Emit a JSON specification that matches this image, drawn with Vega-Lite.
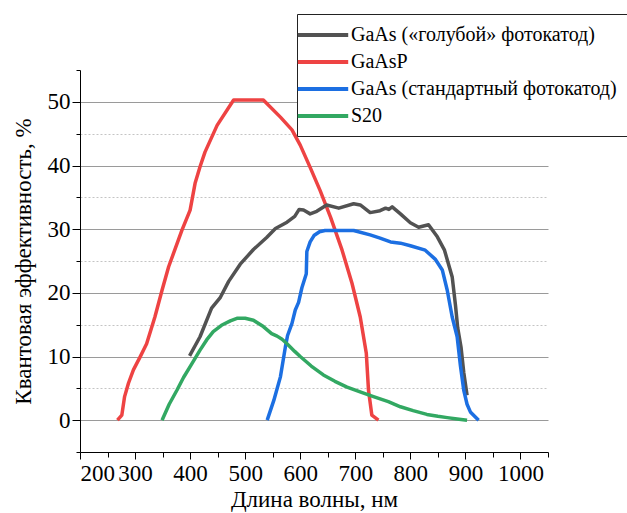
{
  "$schema": "https://vega.github.io/schema/vega-lite/v6.json",
  "width": 468,
  "height": 382,
  "autosize": "none",
  "padding": {"left": 80, "top": 70, "right": 79, "bottom": 61},
  "background": "white",
  "config": {
    "view": {"stroke": null},
    "font": "Liberation Serif, Times New Roman, DejaVu Serif, serif",
    "style": {
      "guide-label": {"font": "Liberation Serif, Times New Roman, DejaVu Serif, serif"},
      "guide-title": {"font": "Liberation Serif, Times New Roman, DejaVu Serif, serif"}
    },
    "axis": {
      "labelFont": "Liberation Serif, Times New Roman, DejaVu Serif, serif",
      "titleFont": "Liberation Serif, Times New Roman, DejaVu Serif, serif",
      "labelColor": "black",
      "titleColor": "black",
      "labelFontSize": 23,
      "titleFontSize": 23,
      "titleFontWeight": "normal",
      "tickColor": "black",
      "domainColor": "black"
    },
    "legend": {
      "labelFont": "Liberation Serif, Times New Roman, DejaVu Serif, serif"
    }
  },
  "data": {
    "values": [
      {"s": "GaAsP", "nm": 268, "qe": 0},
      {"s": "GaAsP", "nm": 276, "qe": 0.8},
      {"s": "GaAsP", "nm": 281, "qe": 3.7},
      {"s": "GaAsP", "nm": 288, "qe": 5.8},
      {"s": "GaAsP", "nm": 297, "qe": 7.9},
      {"s": "GaAsP", "nm": 309, "qe": 9.9},
      {"s": "GaAsP", "nm": 321, "qe": 12.0},
      {"s": "GaAsP", "nm": 336, "qe": 16.2},
      {"s": "GaAsP", "nm": 349, "qe": 20.4},
      {"s": "GaAsP", "nm": 361, "qe": 24.1},
      {"s": "GaAsP", "nm": 385, "qe": 29.8},
      {"s": "GaAsP", "nm": 400, "qe": 33.0},
      {"s": "GaAsP", "nm": 409, "qe": 37.2},
      {"s": "GaAsP", "nm": 418, "qe": 39.8},
      {"s": "GaAsP", "nm": 427, "qe": 42.1},
      {"s": "GaAsP", "nm": 449, "qe": 46.3},
      {"s": "GaAsP", "nm": 479, "qe": 50.3},
      {"s": "GaAsP", "nm": 533, "qe": 50.3},
      {"s": "GaAsP", "nm": 564, "qe": 47.6},
      {"s": "GaAsP", "nm": 585, "qe": 45.6},
      {"s": "GaAsP", "nm": 600, "qe": 43.2},
      {"s": "GaAsP", "nm": 618, "qe": 39.7},
      {"s": "GaAsP", "nm": 636, "qe": 36.1},
      {"s": "GaAsP", "nm": 655, "qe": 31.9},
      {"s": "GaAsP", "nm": 676, "qe": 26.7},
      {"s": "GaAsP", "nm": 694, "qe": 21.5},
      {"s": "GaAsP", "nm": 709, "qe": 16.2},
      {"s": "GaAsP", "nm": 720, "qe": 10.5},
      {"s": "GaAsP", "nm": 724, "qe": 4.7},
      {"s": "GaAsP", "nm": 730, "qe": 0.8},
      {"s": "GaAsP", "nm": 742, "qe": 0},

      {"s": "GaAs («голубой» фотокатод)", "nm": 399, "qe": 10.1},
      {"s": "GaAs («голубой» фотокатод)", "nm": 418, "qe": 13.1},
      {"s": "GaAs («голубой» фотокатод)", "nm": 439, "qe": 17.6},
      {"s": "GaAs («голубой» фотокатод)", "nm": 455, "qe": 19.3},
      {"s": "GaAs («голубой» фотокатод)", "nm": 470, "qe": 21.8},
      {"s": "GaAs («голубой» фотокатод)", "nm": 491, "qe": 24.5},
      {"s": "GaAs («голубой» фотокатод)", "nm": 515, "qe": 26.8},
      {"s": "GaAs («голубой» фотокатод)", "nm": 539, "qe": 28.7},
      {"s": "GaAs («голубой» фотокатод)", "nm": 555, "qe": 30.1},
      {"s": "GaAs («голубой» фотокатод)", "nm": 576, "qe": 31.1},
      {"s": "GaAs («голубой» фотокатод)", "nm": 590, "qe": 32.0},
      {"s": "GaAs («голубой» фотокатод)", "nm": 598, "qe": 33.1},
      {"s": "GaAs («голубой» фотокатод)", "nm": 606, "qe": 33.0},
      {"s": "GaAs («голубой» фотокатод)", "nm": 618, "qe": 32.4},
      {"s": "GaAs («голубой» фотокатод)", "nm": 630, "qe": 32.8},
      {"s": "GaAs («голубой» фотокатод)", "nm": 648, "qe": 33.8},
      {"s": "GaAs («голубой» фотокатод)", "nm": 670, "qe": 33.3},
      {"s": "GaAs («голубой» фотокатод)", "nm": 697, "qe": 34.0},
      {"s": "GaAs («голубой» фотокатод)", "nm": 709, "qe": 33.8},
      {"s": "GaAs («голубой» фотокатод)", "nm": 727, "qe": 32.6},
      {"s": "GaAs («голубой» фотокатод)", "nm": 745, "qe": 32.9},
      {"s": "GaAs («голубой» фотокатод)", "nm": 755, "qe": 33.3},
      {"s": "GaAs («голубой» фотокатод)", "nm": 761, "qe": 33.1},
      {"s": "GaAs («голубой» фотокатод)", "nm": 767, "qe": 33.5},
      {"s": "GaAs («голубой» фотокатод)", "nm": 782, "qe": 32.4},
      {"s": "GaAs («голубой» фотокатод)", "nm": 800, "qe": 31.0},
      {"s": "GaAs («голубой» фотокатод)", "nm": 815, "qe": 30.3},
      {"s": "GaAs («голубой» фотокатод)", "nm": 833, "qe": 30.7},
      {"s": "GaAs («голубой» фотокатод)", "nm": 849, "qe": 28.8},
      {"s": "GaAs («голубой» фотокатод)", "nm": 862, "qe": 26.7},
      {"s": "GaAs («голубой» фотокатод)", "nm": 876, "qe": 22.5},
      {"s": "GaAs («голубой» фотокатод)", "nm": 882, "qe": 18.0},
      {"s": "GaAs («голубой» фотокатод)", "nm": 886, "qe": 14.5},
      {"s": "GaAs («голубой» фотокатод)", "nm": 892, "qe": 11.5},
      {"s": "GaAs («голубой» фотокатод)", "nm": 897, "qe": 7.5},
      {"s": "GaAs («голубой» фотокатод)", "nm": 903, "qe": 3.9},

      {"s": "GaAs (стандартный фотокатод)", "nm": 540, "qe": 0},
      {"s": "GaAs (стандартный фотокатод)", "nm": 552, "qe": 3.1},
      {"s": "GaAs (стандартный фотокатод)", "nm": 564, "qe": 6.8},
      {"s": "GaAs (стандартный фотокатод)", "nm": 573, "qe": 11.5},
      {"s": "GaAs (стандартный фотокатод)", "nm": 577, "qe": 13.3},
      {"s": "GaAs (стандартный фотокатод)", "nm": 585, "qe": 15.2},
      {"s": "GaAs (стандартный фотокатод)", "nm": 591, "qe": 17.3},
      {"s": "GaAs (стандартный фотокатод)", "nm": 597, "qe": 18.5},
      {"s": "GaAs (стандартный фотокатод)", "nm": 603, "qe": 20.8},
      {"s": "GaAs (стандартный фотокатод)", "nm": 611, "qe": 23.0},
      {"s": "GaAs (стандартный фотокатод)", "nm": 612, "qe": 26.5},
      {"s": "GaAs (стандартный фотокатод)", "nm": 618, "qe": 28.0},
      {"s": "GaAs (стандартный фотокатод)", "nm": 625, "qe": 29.0},
      {"s": "GaAs (стандартный фотокатод)", "nm": 635, "qe": 29.6},
      {"s": "GaAs (стандартный фотокатод)", "nm": 645, "qe": 29.8},
      {"s": "GaAs (стандартный фотокатод)", "nm": 697, "qe": 29.8},
      {"s": "GaAs (стандартный фотокатод)", "nm": 727, "qe": 29.1},
      {"s": "GaAs (стандартный фотокатод)", "nm": 745, "qe": 28.6},
      {"s": "GaAs (стандартный фотокатод)", "nm": 764, "qe": 28.0},
      {"s": "GaAs (стандартный фотокатод)", "nm": 782, "qe": 27.8},
      {"s": "GaAs (стандартный фотокатод)", "nm": 800, "qe": 27.4},
      {"s": "GaAs (стандартный фотокатод)", "nm": 827, "qe": 26.7},
      {"s": "GaAs (стандартный фотокатод)", "nm": 845, "qe": 25.3},
      {"s": "GaAs (стандартный фотокатод)", "nm": 858, "qe": 23.6},
      {"s": "GaAs (стандартный фотокатод)", "nm": 867, "qe": 20.4},
      {"s": "GaAs (стандартный фотокатод)", "nm": 876, "qe": 16.2},
      {"s": "GaAs (стандартный фотокатод)", "nm": 885, "qe": 13.1},
      {"s": "GaAs (стандартный фотокатод)", "nm": 891, "qe": 8.5},
      {"s": "GaAs (стандартный фотокатод)", "nm": 897, "qe": 4.7},
      {"s": "GaAs (стандартный фотокатод)", "nm": 903, "qe": 2.5},
      {"s": "GaAs (стандартный фотокатод)", "nm": 909, "qe": 1.3},
      {"s": "GaAs (стандартный фотокатод)", "nm": 924, "qe": 0},

      {"s": "S20", "nm": 349, "qe": 0},
      {"s": "S20", "nm": 362, "qe": 2.5},
      {"s": "S20", "nm": 376, "qe": 4.7},
      {"s": "S20", "nm": 388, "qe": 6.7},
      {"s": "S20", "nm": 400, "qe": 8.4},
      {"s": "S20", "nm": 418, "qe": 11.0},
      {"s": "S20", "nm": 430, "qe": 12.6},
      {"s": "S20", "nm": 442, "qe": 13.9},
      {"s": "S20", "nm": 457, "qe": 14.9},
      {"s": "S20", "nm": 473, "qe": 15.6},
      {"s": "S20", "nm": 485, "qe": 16.0},
      {"s": "S20", "nm": 500, "qe": 16.0},
      {"s": "S20", "nm": 515, "qe": 15.7},
      {"s": "S20", "nm": 533, "qe": 14.7},
      {"s": "S20", "nm": 548, "qe": 13.6},
      {"s": "S20", "nm": 558, "qe": 13.2},
      {"s": "S20", "nm": 567, "qe": 12.7},
      {"s": "S20", "nm": 576, "qe": 12.0},
      {"s": "S20", "nm": 590, "qe": 10.8},
      {"s": "S20", "nm": 600, "qe": 10.0},
      {"s": "S20", "nm": 620, "qe": 8.5},
      {"s": "S20", "nm": 642, "qe": 7.1},
      {"s": "S20", "nm": 663, "qe": 6.1},
      {"s": "S20", "nm": 685, "qe": 5.2},
      {"s": "S20", "nm": 710, "qe": 4.4},
      {"s": "S20", "nm": 733, "qe": 3.7},
      {"s": "S20", "nm": 760, "qe": 2.9},
      {"s": "S20", "nm": 782, "qe": 2.1},
      {"s": "S20", "nm": 805, "qe": 1.5},
      {"s": "S20", "nm": 830, "qe": 0.9},
      {"s": "S20", "nm": 850, "qe": 0.6},
      {"s": "S20", "nm": 867, "qe": 0.4},
      {"s": "S20", "nm": 885, "qe": 0.2},
      {"s": "S20", "nm": 903, "qe": 0}
    ]
  },
  "layer": [
    {
      "mark": {"type": "point", "opacity": 0},
      "encoding": {
        "x": {
          "field": "nm", "type": "quantitative",
          "scale": {"domain": [200, 1050], "nice": false, "zero": false},
          "axis": {"orient": "bottom", "values": [250, 350, 450, 550, 650, 750, 850, 950, 1050], "labels": false, "domain": false, "grid": false, "tickSize": 5, "title": null}
        },
        "y": {
          "field": "qe", "type": "quantitative",
          "scale": {"domain": [-5, 55], "nice": false, "zero": false},
          "axis": {
            "orient": "left", "values": [-5, 5, 15, 25, 35, 45, 55], "labels": false, "domain": false, "tickSize": 4, "title": null,
            "grid": true, "gridColor": "#c4c4c4", "gridDash": [2, 2], "gridWidth": 1,
            "gridOpacity": {"condition": {"test": "datum.value < 0 || datum.value > 50", "value": 0}, "value": 1}
          }
        }
      }
    },
    {
      "mark": {"type": "line", "strokeWidth": 3.5, "strokeJoin": "round"},
      "encoding": {
        "x": {
          "field": "nm", "type": "quantitative",
          "axis": {"orient": "bottom", "values": [200, 300, 400, 500, 600, 700, 800, 900, 1000], "format": "d", "tickSize": 7, "labelPadding": 3, "grid": false,
            "labelFont": "Liberation Serif, Times New Roman, DejaVu Serif, serif", "titleFont": "Liberation Serif, Times New Roman, DejaVu Serif, serif",
            "title": "Длина волны, нм", "titlePadding": 3}
        },
        "y": {
          "field": "qe", "type": "quantitative",
          "axis": {"orient": "left", "values": [0, 10, 20, 30, 40, 50], "format": "d", "tickSize": 8, "labelPadding": 2, "grid": true, "gridColor": "#9a9a9a", "gridWidth": 1,
            "labelFont": "Liberation Serif, Times New Roman, DejaVu Serif, serif", "titleFont": "Liberation Serif, Times New Roman, DejaVu Serif, serif",
            "title": "Квантовая эффективность, %", "titlePadding": 12}
        },
        "color": {
          "field": "s", "type": "nominal",
          "scale": {
            "domain": ["GaAs («голубой» фотокатод)", "GaAsP", "GaAs (стандартный фотокатод)", "S20"],
            "range": ["#525252", "#ee4343", "#1c6fe2", "#32a862"]
          },
          "legend": {
            "orient": "none", "legendX": 217, "legendY": -56, "title": null,
            "symbolType": "M-2.8,0L2.8,0", "symbolSize": 324, "symbolStrokeWidth": 4,
            "labelFont": "Liberation Serif, Times New Roman, DejaVu Serif, serif",
            "labelFontSize": 20, "labelColor": "black", "labelLimit": 500,
            "padding": 10, "rowPadding": 6, "fillColor": "white", "strokeColor": "#222",
            "symbolOffset": 5, "labelOffset": 17
          }
        }
      }
    }
  ],
  "resolve": {"axis": {"x": "independent", "y": "independent"}}
}
